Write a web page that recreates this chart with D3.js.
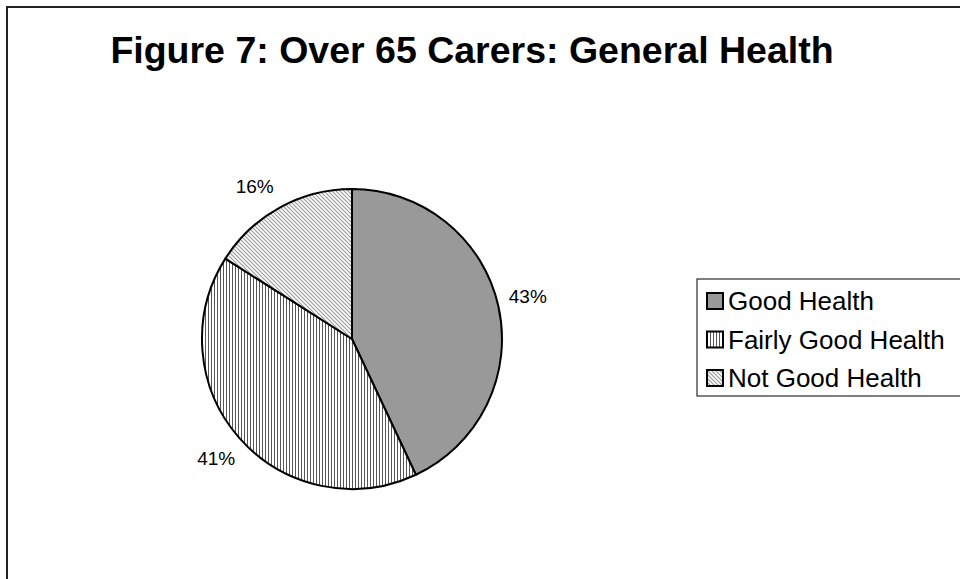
<!DOCTYPE html>
<html lang="en">
<head>
<meta charset="UTF-8" />
<title>Over 65 Carers: General Health</title>
<style>
    body { margin: 0; background: #fff; }
    svg { display: block; font-family: "Liberation Sans", Arial, sans-serif; }
</style>
</head>
<body>
<div id="chart"></div>
<script src="https://cdn.jsdelivr.net/npm/d3@7"></script>
<script>
    // --- Data ---
    const categories = ["Good Health", "Fairly Good Health", "Not Good Health"];
    const shares = [43, 41, 16];
    const fills = ["#999999", "url(#vstripe)", "url(#diag)"];
    // small angular nudges (radians) so labels sit clear of the slice edges
    const labelShift = [-0.02, 0, -0.065];

    const width = 960, height = 579;
    const svg = d3.select("#chart").append("svg")
        .attr("width", width)
        .attr("height", height);

    // hatch patterns
    const defs = svg.append("defs");
    const vs = defs.append("pattern")
        .attr("id", "vstripe")
        .attr("patternUnits", "userSpaceOnUse")
        .attr("width", 3).attr("height", 3);
    vs.append("rect").attr("width", 3).attr("height", 3).attr("fill", "#fff");
    vs.append("rect").attr("width", 1).attr("height", 3).attr("fill", "#555");

    const dg = defs.append("pattern")
        .attr("id", "diag")
        .attr("patternUnits", "userSpaceOnUse")
        .attr("width", 4).attr("height", 4);
    dg.append("rect").attr("width", 4).attr("height", 4).attr("fill", "#fff");
    dg.append("path")
        .attr("d", "M-1,3 L1,5 M0,0 L4,4 M3,-1 L5,1")
        .attr("stroke", "#999").attr("stroke-width", 1.1);

    // outer frame
    svg.append("rect")
        .attr("x", 7).attr("y", 7)
        .attr("width", width).attr("height", height)
        .attr("fill", "none").attr("stroke", "#222").attr("stroke-width", 2);

    svg.append("text")
        .attr("x", 472).attr("y", 63)
        .attr("text-anchor", "middle")
        .attr("font-size", 37.5).attr("font-weight", "bold")
        .text("Figure 7: Over 65 Carers: General Health");

    // --- Pie ---
    const cx = 352, cy = 339, r = 150, labelR = 181;
    const pie = d3.pie().sort(null).value(d => d)(shares);
    const arc = d3.arc().innerRadius(0).outerRadius(r);

    const g = svg.append("g").attr("transform", `translate(${cx},${cy})`);
    g.selectAll("path")
        .data(pie)
        .join("path")
        .attr("d", arc)
        .attr("fill", (d, i) => fills[i])
        .attr("stroke", "#000")
        .attr("stroke-width", 2)
        .attr("stroke-linejoin", "round");

    g.selectAll("text")
        .data(pie)
        .join("text")
        .attr("transform", (d, i) => {
            const a = (d.startAngle + d.endAngle) / 2 + labelShift[i];
            return `translate(${labelR * Math.sin(a)},${-labelR * Math.cos(a)})`;
        })
        .attr("text-anchor", "middle")
        .attr("dy", "0.35em")
        .attr("font-size", 19)
        .text(d => d.data + "%");

    // --- Legend ---
    svg.append("rect")
        .attr("x", 697).attr("y", 279)
        .attr("width", 300).attr("height", 117)
        .attr("fill", "#fff").attr("stroke", "#000").attr("stroke-width", 1);

    const y = d3.scalePoint().domain(categories).range([301, 378]);
    const items = svg.append("g").selectAll("g")
        .data(categories)
        .join("g")
        .attr("transform", d => `translate(707,${y(d)})`);
    items.append("rect")
        .attr("x", 0).attr("y", -8)
        .attr("width", 16).attr("height", 16)
        .attr("fill", (d, i) => fills[i])
        .attr("stroke", "#000").attr("stroke-width", 2);
    items.append("text")
        .attr("x", 21).attr("dy", "0.36em")
        .attr("font-size", 26)
        .text(d => d);
</script>
</body>
</html>
